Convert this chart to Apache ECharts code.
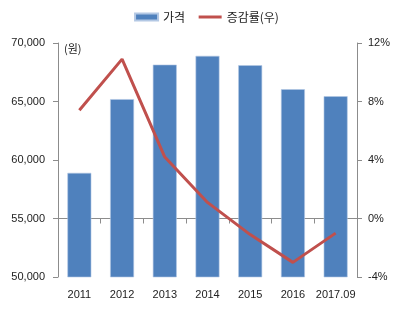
<!DOCTYPE html>
<html><head><meta charset="utf-8">
<script src="https://cdn.jsdelivr.net/npm/echarts@6/dist/echarts.min.js"></script>
<style>html,body{margin:0;padding:0;background:#fff}#c{width:413px;height:318px}</style>
</head><body><div id="c"></div>
<script>
const categories = ['2011','2012','2013','2014','2015','2016','2017.09'];
const prices = [58900, 65200, 68150, 68900, 68100, 66050, 65450];
const growth = [7.4, 10.9, 4.2, 1.1, -1.1, -3.0, -1.0];
const leftTicks = [50000, 70000, 5000];
const rightTicks = [-4, 12, 4];

const font = '"Noto Sans CJK KR", "Noto Sans", sans-serif';
const axisColor = '#8c8c8c';
const chart = echarts.init(document.getElementById('c'));
chart.setOption({
  animation: false,
  textStyle: {fontFamily: font},
  legend: {
    top: 6, left: 'center', itemGap: 12, itemWidth: 23, itemHeight: 7,
    textStyle: {fontSize: 12, color: '#222', fontFamily: font},
    data: [{name: '가격', icon: 'rect'},
           {name: '증감률(우)', itemStyle: {opacity: 0}, lineStyle: {color: '#c0504d', width: 3}}]
  },
  grid: {left: 58, right: 56, top: 43, bottom: 41},
  graphic: [{type: 'text', left: 64, top: 43, style: {text: '(원)', fontSize: 11, fill: '#222', fontFamily: font}}],
  xAxis: {
    type: 'category', data: categories,
    axisLine: {lineStyle: {color: axisColor}},
    axisTick: {show: true, alignWithLabel: false, length: 5, lineStyle: {color: axisColor}},
    axisLabel: {color: '#222', fontSize: 11, margin: 12, fontFamily: 'Liberation Sans, sans-serif', interval: 0}
  },
  yAxis: [{
    type: 'value', min: leftTicks[0], max: leftTicks[1], interval: leftTicks[2],
    axisLine: {show: true, lineStyle: {color: axisColor}},
    axisTick: {show: true, length: 5, lineStyle: {color: axisColor}},
    splitLine: {show: false},
    axisLabel: {color: '#222', fontSize: 11, margin: 13, fontFamily: 'Liberation Sans, sans-serif',
      formatter: v => v.toLocaleString('en-US')}
  }, {
    type: 'value', min: rightTicks[0], max: rightTicks[1], interval: rightTicks[2],
    axisLine: {show: true, lineStyle: {color: axisColor}},
    axisTick: {show: true, length: 5, lineStyle: {color: axisColor}},
    splitLine: {show: false},
    axisLabel: {color: '#222', fontSize: 11, margin: 11, fontFamily: 'Liberation Sans, sans-serif',
      formatter: v => v + '%'}
  }],
  series: [{
    name: '가격', type: 'bar', data: prices, barWidth: '56%',
    itemStyle: {color: '#4f81bd', borderColor: '#b3c8e4', borderWidth: 0.6}
  }, {
    name: '증감률(우)', type: 'line', yAxisIndex: 1, data: growth,
    symbol: 'none', lineStyle: {color: '#c0504d', width: 3},
    itemStyle: {color: '#c0504d'}
  }]
});
</script></body></html>
